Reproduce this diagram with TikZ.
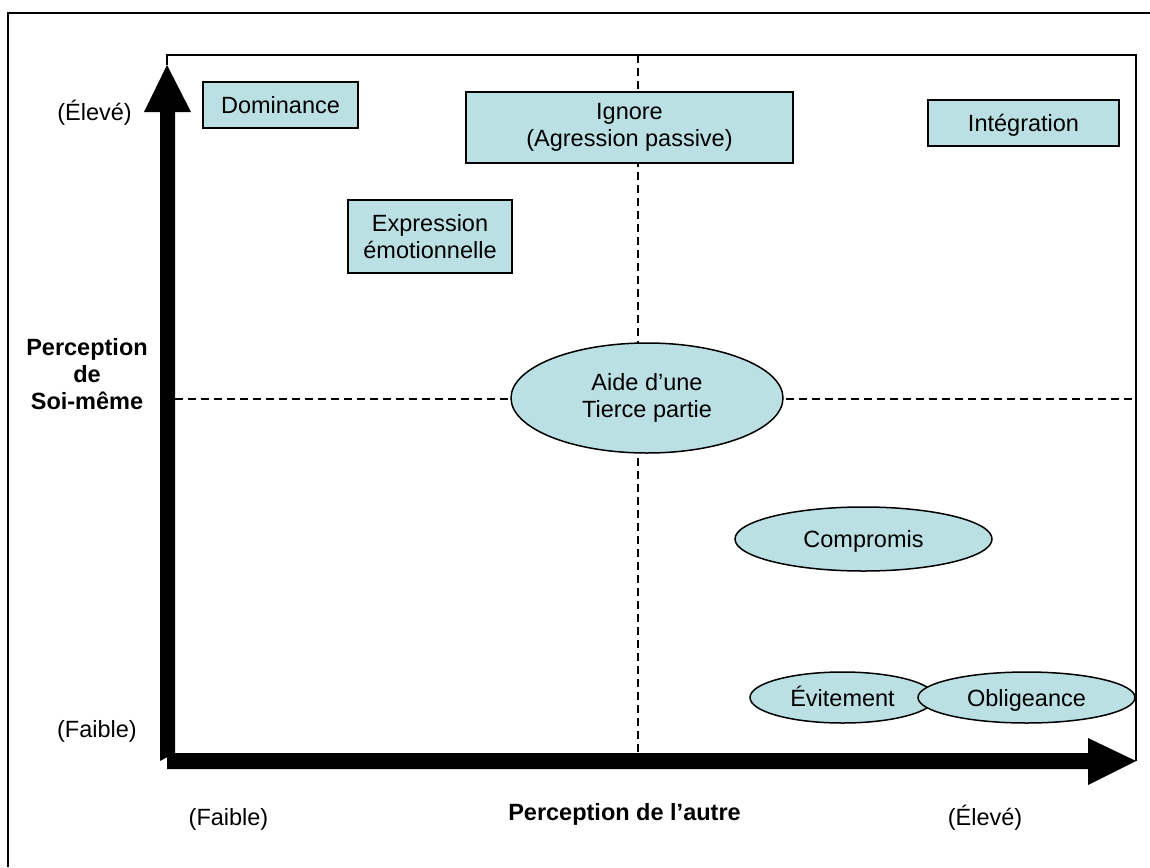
\documentclass[tikz,border=0pt]{standalone}
\usepackage{fontspec}
\setmainfont{Liberation Sans}
\usetikzlibrary{shapes.geometric}
\definecolor{boxfill}{RGB}{187,224,227}
\begin{document}
\begin{tikzpicture}[x=1pt,y=-1pt,
  every node/.style={font=\fontsize{23.5}{27}\selectfont},
  rbox/.style={draw=black,line width=1.5pt,fill=boxfill,rectangle,inner sep=0pt,align=center},
  ebox/.style={draw=black,line width=1.5pt,fill=boxfill,ellipse,inner sep=0pt,align=center},
  oneline/.style={text height=17pt,text depth=0pt},
  lbl/.style={inner sep=0pt,anchor=base},
  blbl/.style={inner sep=0pt,font=\fontsize{23.5}{27}\selectfont\bfseries,align=center},
  guide/.style={line width=1.3pt,dash pattern=on 8pt off 5pt},
  frame/.style={line width=1.5pt}
]
\useasboundingbox (0,0) rectangle (1150,867);
% outer frame
\draw[frame] (8,867) -- (8,13) -- (1150,13);
% inner frame
\draw[frame] (167,65) -- (167,55) -- (1136,55) -- (1136,761);
% guides
\coordinate (gl) at (175,399);
\coordinate (gr) at (1136,399);
\coordinate (gt) at (638,55);
\coordinate (gb) at (638,753);
\draw[guide] (gl) -- (gr);
\draw[guide] (gt) -- (gb);
% axes
\fill[black] (160,761) -- (160,112) -- (144,112) -- (167,65) -- (191,112) -- (175,112) -- (175,753) -- cycle;
\fill[black] (167,753) -- (1088,753) -- (1088,738) -- (1136,761) -- (1088,785) -- (1088,769) -- (167,769) -- cycle;
% boxes
\node[rbox,oneline,minimum width=155pt,minimum height=46pt] (dom) at (280.5,105) {Dominance};
\node[rbox,oneline,minimum width=191pt,minimum height=46pt] (int) at (1023.5,123) {Intégration};
\node[rbox,minimum width=327pt,minimum height=71pt] (ign) at (629.5,127.5) {Ignore\\(Agression passive)};
\node[rbox,minimum width=164pt,minimum height=73pt] (exp) at (430,236.5) {Expression\\émotionnelle};
\node[ebox,minimum width=272pt,minimum height=110pt] (aide) at (647,398) {Aide d’une\\Tierce partie};
\node[ebox,oneline,minimum width=257pt,minimum height=64pt] (comp) at (863.5,539) {Compromis};
\node[ebox,oneline,minimum width=185pt,minimum height=51pt] (evit) at (842.5,697.5) {Évitement};
\node[ebox,oneline,minimum width=217pt,minimum height=51pt] (obl) at (1026.5,697.5) {Obligeance};
% labels
\node[lbl] (yhi) at (94.5,120) {(Élevé)};
\node[lbl] (ylo) at (97,737) {(Faible)};
\node[lbl] (xlo) at (228.5,825) {(Faible)};
\node[lbl] (xhi) at (985,825) {(Élevé)};
\node[blbl,anchor=base] (xt) at (624.5,820) {Perception de l’autre};
\node[blbl] (yt) at (87,374) {Perception\\de\\Soi-même};
\end{tikzpicture}
\end{document}
